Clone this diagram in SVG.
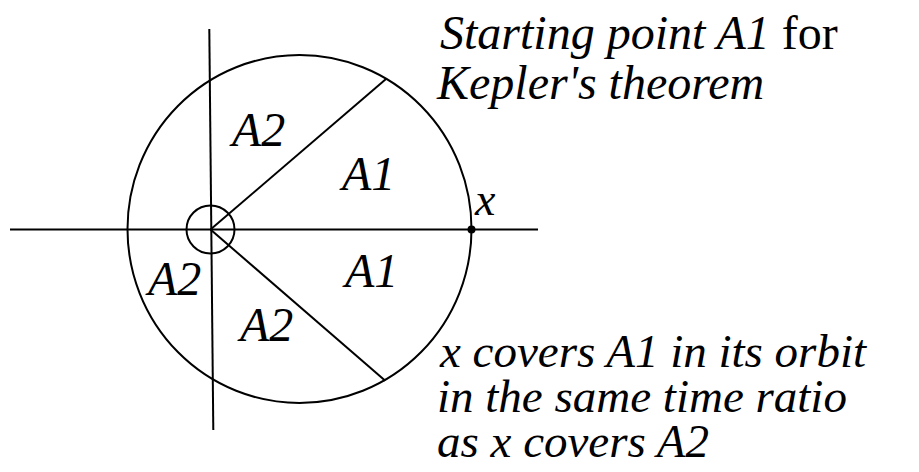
<svg xmlns="http://www.w3.org/2000/svg" width="919" height="472" viewBox="0 0 919 472">
<rect width="919" height="472" fill="#fff"/>
<g id="orbit" stroke="#000" stroke-width="2" fill="none">
<ellipse cx="299.5" cy="229" rx="172" ry="174"/>
</g>
<g id="focus" stroke="#000" stroke-width="2" fill="none">
<circle cx="210.5" cy="229.5" r="24"/>
</g>
<g id="connectors" stroke="#000" stroke-width="2" fill="none">
<line x1="10" y1="229.5" x2="538" y2="229.5"/>
<line x1="209.3" y1="29" x2="213.3" y2="430"/>
<line x1="210.5" y1="229.5" x2="386" y2="79"/>
<line x1="210.5" y1="229.5" x2="385.3" y2="380.7"/>
</g>
<g id="point-x">
<circle cx="471.5" cy="229.5" r="4" fill="#000"/>
<text x="475" y="215" style="font-family:'Liberation Serif',serif;font-size:46px;font-style:italic">x</text>
</g>
<g id="labels">
<text x="232" y="146" style="font-family:'Liberation Serif',serif;font-size:48px;font-style:italic">A2</text>
<text x="342" y="190" style="font-family:'Liberation Serif',serif;font-size:48px;font-style:italic">A1</text>
<text x="345" y="287" style="font-family:'Liberation Serif',serif;font-size:48px;font-style:italic">A1</text>
<text x="148" y="295" style="font-family:'Liberation Serif',serif;font-size:48px;font-style:italic">A2</text>
<text x="240" y="341" style="font-family:'Liberation Serif',serif;font-size:48px;font-style:italic">A2</text>
</g>
<g id="title">
<text x="440" y="49" style="font-family:'Liberation Serif',serif;font-size:48px;font-style:normal"><tspan style="font-style:italic">Starting point A1 </tspan>for</text>
<text x="437" y="99" style="font-family:'Liberation Serif',serif;font-size:48px;font-style:italic">Kepler's theorem</text>
</g>
<g id="caption">
<text x="440" y="367" style="font-family:'Liberation Serif',serif;font-size:47px;font-style:italic">x covers A1 in its orbit</text>
<text x="437" y="412" style="font-family:'Liberation Serif',serif;font-size:47px;font-style:italic">in the same time ratio</text>
<text x="437" y="457" style="font-family:'Liberation Serif',serif;font-size:47px;font-style:italic">as x covers A2</text>
</g>
</svg>
